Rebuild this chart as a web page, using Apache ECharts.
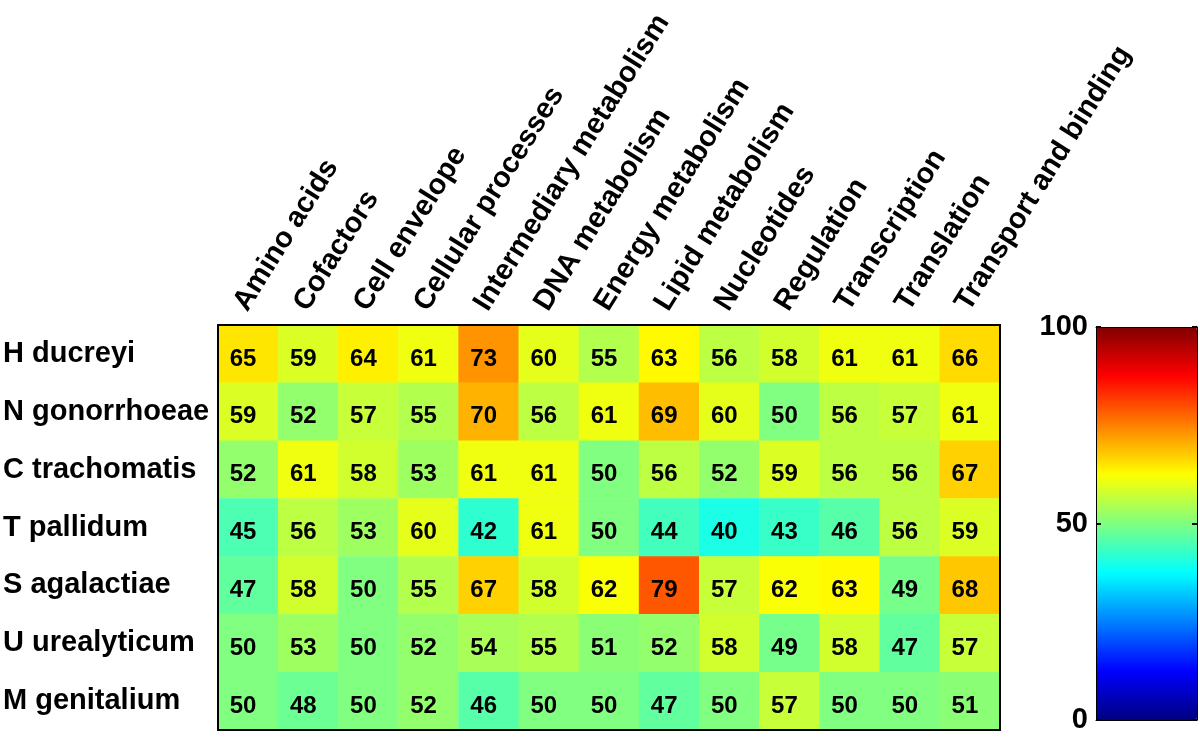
<!DOCTYPE html>
<html>
<head>
<meta charset="utf-8">
<script src="https://cdn.jsdelivr.net/npm/echarts@6/dist/echarts.min.js"></script>
<style>html,body{margin:0;padding:0;background:#fff;}#c{width:1200px;height:741px;}</style>
</head>
<body>
<div id="c"></div>
<script>
const organisms = ['H ducreyi','N gonorrhoeae','C trachomatis','T pallidum','S agalactiae','U urealyticum','M genitalium'];
const categories = ['Amino acids','Cofactors','Cell envelope','Cellular processes','Intermediary metabolism','DNA metabolism','Energy metabolism','Lipid metabolism','Nucleotides','Regulation','Transcription','Translation','Transport and binding'];
const hDucreyi      = [65,59,64,61,73,60,55,63,56,58,61,61,66];
const nGonorrhoeae  = [59,52,57,55,70,56,61,69,60,50,56,57,61];
const cTrachomatis  = [52,61,58,53,61,61,50,56,52,59,56,56,67];
const tPallidum     = [45,56,53,60,42,61,50,44,40,43,46,56,59];
const sAgalactiae   = [47,58,50,55,67,58,62,79,57,62,63,49,68];
const uUrealyticum  = [50,53,50,52,54,55,51,52,58,49,58,47,57];
const mGenitalium   = [50,48,50,52,46,50,50,47,50,57,50,50,51];
const colorbarTicks = [0,50,100];

const rowsValues = [hDucreyi,nGonorrhoeae,cTrachomatis,tPallidum,sAgalactiae,uUrealyticum,mGenitalium];
const data = [];
rowsValues.forEach((row, r) => row.forEach((v, c) => data.push([c, r, v])));

const FONT = "'Liberation Sans', Arial, sans-serif";
const jet = ['#000080','#0000ff','#0080ff','#00ffff','#80ff80','#ffff00','#ff8000','#ff0000','#800000'];
const oddTick = (i) => i % 2 === 1;
const cbLine = {show: true, onZero: false, lineStyle: {color: '#000', width: 1}};

const chart = echarts.init(document.getElementById('c'));
chart.setOption({
  animation: false,
  backgroundColor: '#fff',
  grid: [
    {left: 217, top: 325, width: 783, height: 405},
    {left: 1096, top: 327, width: 101, height: 393}
  ],
  xAxis: [
    {type: 'category', data: categories, gridIndex: 0, position: 'top', z: 10,
     axisLine: {lineStyle: {color: '#000', width: 2}},
     axisTick: {inside: true, length: 7, alignWithLabel: true, interval: oddTick, lineStyle: {color: '#000', width: 2}},
     axisLabel: {interval: 0, rotate: -58, align: 'left', verticalAlign: 'bottom', lineHeight: 18, margin: 12, color: '#000', fontFamily: FONT, fontWeight: 'bold', fontSize: 29},
     splitLine: {show: false}},
    {type: 'category', data: categories, gridIndex: 0, position: 'bottom', z: 10,
     axisLine: {lineStyle: {color: '#000', width: 2}},
     axisTick: {inside: true, length: 7, alignWithLabel: true, interval: oddTick, lineStyle: {color: '#000', width: 2}},
     axisLabel: {show: false}, splitLine: {show: false}},
    {type: 'value', gridIndex: 1, min: 0, max: 1, position: 'top', z: 10,
     axisLine: cbLine, axisTick: {show: false}, axisLabel: {show: false}, splitLine: {show: false}},
    {type: 'value', gridIndex: 1, min: 0, max: 1, position: 'bottom', z: 10,
     axisLine: cbLine, axisTick: {show: false}, axisLabel: {show: false}, splitLine: {show: false}}
  ],
  yAxis: [
    {type: 'category', data: organisms, gridIndex: 0, inverse: true, position: 'left', z: 10,
     axisLine: {lineStyle: {color: '#000', width: 2}},
     axisTick: {inside: true, length: 7, alignWithLabel: true, interval: oddTick, lineStyle: {color: '#000', width: 2}},
     axisLabel: {interval: 0, align: 'left', margin: 215, color: '#000', fontFamily: FONT, fontWeight: 'bold', fontSize: 29},
     splitLine: {show: false}},
    {type: 'category', data: organisms, gridIndex: 0, inverse: true, position: 'right', z: 10,
     axisLine: {lineStyle: {color: '#000', width: 2}},
     axisTick: {inside: true, length: 7, alignWithLabel: true, interval: oddTick, lineStyle: {color: '#000', width: 2}},
     axisLabel: {show: false}, splitLine: {show: false}},
    {type: 'value', gridIndex: 1, min: colorbarTicks[0], max: colorbarTicks[2], interval: 50, position: 'left', z: 10,
     axisLine: cbLine,
     axisTick: {show: true, inside: true, length: 5, lineStyle: {color: '#000', width: 2}},
     axisLabel: {margin: 8, color: '#000', fontFamily: FONT, fontWeight: 'bold', fontSize: 29},
     splitLine: {show: false}},
    {type: 'value', gridIndex: 1, min: colorbarTicks[0], max: colorbarTicks[2], interval: 50, position: 'right', z: 10,
     axisLine: cbLine,
     axisTick: {show: true, inside: true, length: 5, lineStyle: {color: '#000', width: 2}},
     axisLabel: {show: false}, splitLine: {show: false}}
  ],
  visualMap: {
    type: 'continuous', min: 0, max: 100, dimension: 2, seriesIndex: 0,
    show: true, calculable: false, hoverLink: false, z: 1,
    left: 1096, top: 327, itemWidth: 101, itemHeight: 393, padding: 0,
    text: null, showLabel: false,
    inRange: {color: jet}
  },
  series: [{
    type: 'heatmap', xAxisIndex: 0, yAxisIndex: 0, data: data,
    label: {show: true, color: '#000', fontFamily: FONT, fontWeight: 'bold', fontSize: 24, offset: [-5, 5]},
    itemStyle: {borderWidth: 0},
    emphasis: {disabled: true}
  }]
});
</script>
</body>
</html>
